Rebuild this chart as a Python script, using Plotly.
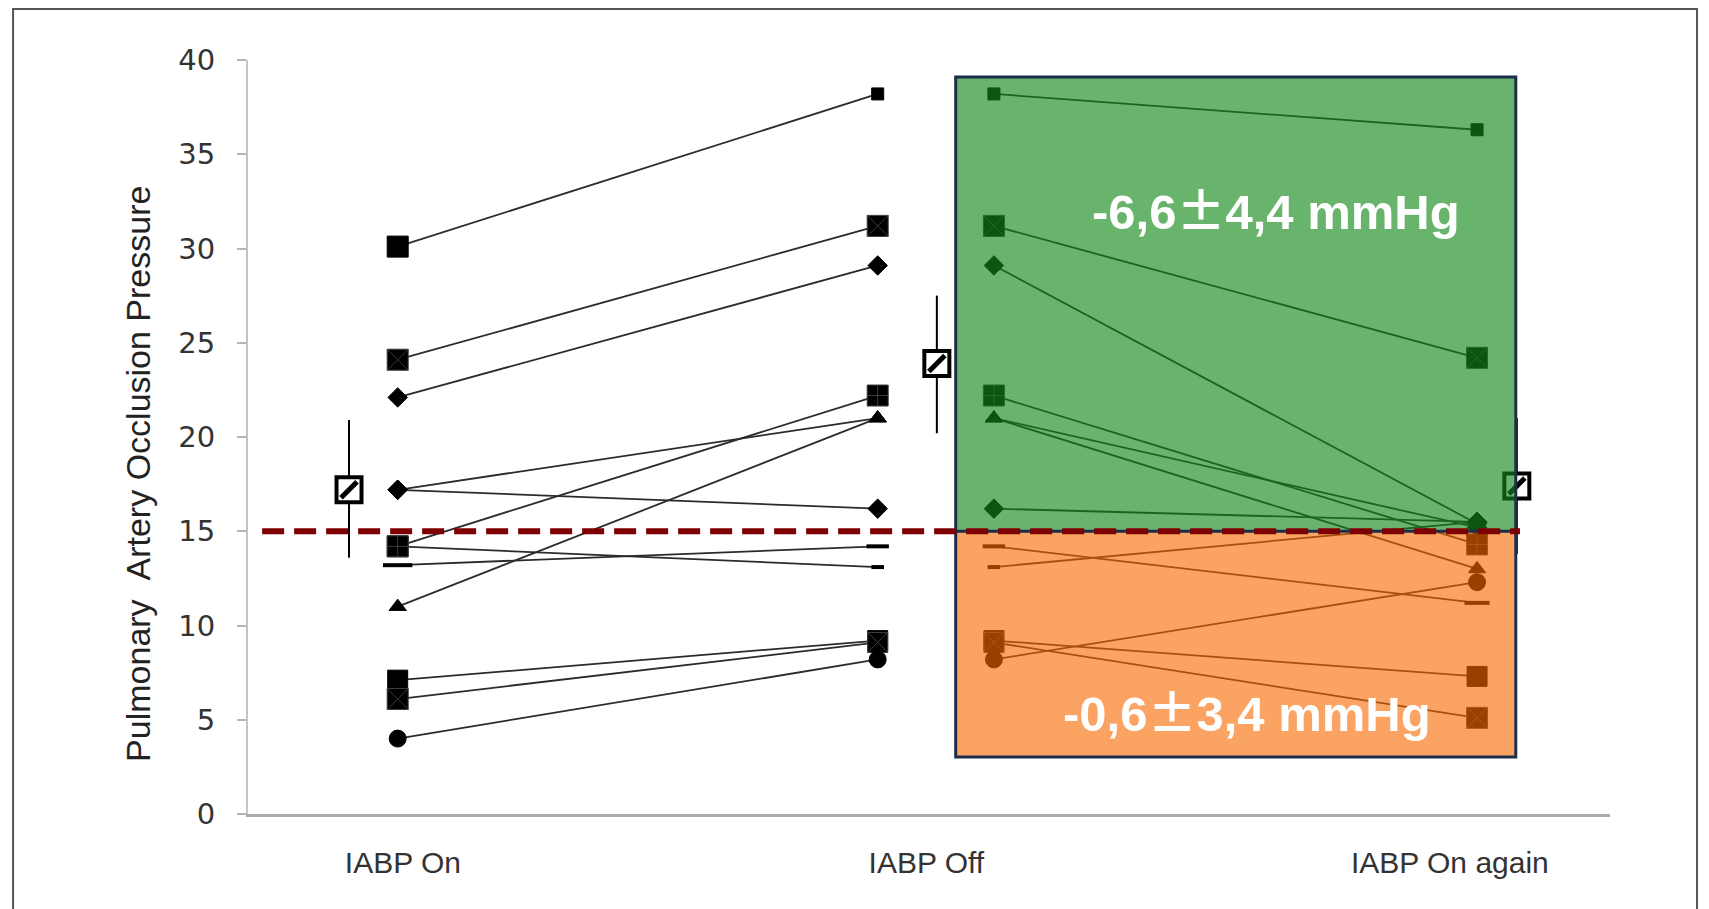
import plotly.graph_objects as go

# ---------------- data ----------------
categories = ["IABP On", "IABP Off", "IABP On again"]
y_ticks = [0, 5, 10, 15, 20, 25, 30, 35, 40]

on_vals = [30.1, 24.1, 22.1, 17.2, 14.2, 13.2, 11.0, 7.1, 6.1, 4.0, 17.2, 14.2]
off_vals = [38.2, 31.2, 29.1, 16.2, 22.2, 14.2, 21.0, 9.2, 9.1, 8.2, 21.0, 13.1]
again_vals = [36.3, 24.2, 15.4, 15.5, 14.3, 11.2, 13.0, 7.3, 5.1, 12.3, 15.2, 15.5]

mean_vals = [17.2, 23.9, 17.4]
sd_plus = [3.7, 3.6, 3.6]
sd_minus = [3.6, 3.7, 3.6]

threshold = 15
label_high = ("-6,6", "4,4 mmHg")
label_low = ("-0,6", "3,4 mmHg")

# ---------------- styles / positions ----------------
on_sym = ["square", "square-x", "diamond", "diamond", "square-cross", "line-ew",
          "triangle-up", "square", "square-x", "circle", "diamond", "square-cross"]
on_size = [21, 21, 15, 15, 21, 21, 15, 20, 21, 17, 15, 21]
off_sym = ["square", "square-x", "diamond", "diamond", "square-cross", "line-ew",
           "triangle-up", "square", "square-x", "circle", "triangle-up", "line-ew"]
off_size = [12, 21, 15, 15, 21, 16, 15, 20, 20, 17, 15, 9]
again_sym = ["square", "square-x", "diamond", "diamond", "square-cross", "line-ew",
             "triangle-up", "square", "square-x", "circle", "diamond", "diamond"]
again_size = [12, 21, 15, 15, 21, 18, 15, 20, 21, 17, 15, 15]

X_ON, X_OFF = -0.01, 0.907          # main panel columns
X_IN_L, X_IN_R = 1.129, 2.052       # pasted panel columns
X_MEANS = [-0.103, 1.020, 2.128]
BOX_X0, BOX_X1 = 1.056, 2.126
BOX_Y0, BOX_Y1 = 3.02, 39.1


def mline(s):
    return 4 if s == "line-ew" else 1


def mcol(s):
    return "#3c3c3c" if s in ("square-x", "square-cross") else "#000000"


fig = go.Figure()

for i in range(len(on_vals)):
    syms = [on_sym[i], off_sym[i]]
    fig.add_trace(go.Scatter(
        x=[X_ON, X_OFF], y=[on_vals[i], off_vals[i]], mode="lines+markers",
        line=dict(color="#2b2b2b", width=1.8),
        marker=dict(symbol=syms, size=[on_size[i], off_size[i]], color="#000000", opacity=1,
                    line=dict(width=[mline(s) for s in syms], color=[mcol(s) for s in syms])),
        showlegend=False, hoverinfo="skip"))

for i in range(len(off_vals)):
    syms = [off_sym[i], again_sym[i]]
    fig.add_trace(go.Scatter(
        x=[X_IN_L, X_IN_R], y=[off_vals[i], again_vals[i]], mode="lines+markers",
        line=dict(color="#2b2b2b", width=1.8),
        marker=dict(symbol=syms, size=[off_size[i], again_size[i]], color="#000000", opacity=1,
                    line=dict(width=[mline(s) for s in syms], color=[mcol(s) for s in syms])),
        showlegend=False, hoverinfo="skip"))

# mean +- SD markers (hatched squares)
fig.add_trace(go.Scatter(
    x=X_MEANS, y=mean_vals, mode="markers",
    marker=dict(symbol="square", size=25, color="white", opacity=1,
                line=dict(color="black", width=4)),
    error_y=dict(type="data", array=sd_plus, arrayminus=sd_minus, color="black", thickness=2, width=0),
    showlegend=False, hoverinfo="skip"))
fig.add_trace(go.Scatter(
    x=X_MEANS, y=mean_vals, mode="markers",
    marker=dict(symbol="line-ne", size=16, color="black", opacity=1, line=dict(color="black", width=5)),
    showlegend=False, hoverinfo="skip"))

shapes = [
    dict(type="rect", xref="x", yref="y", x0=BOX_X0, x1=BOX_X1, y0=threshold, y1=BOX_Y1,
         fillcolor="rgba(16,136,22,0.63)", line=dict(width=0), layer="above"),
    dict(type="rect", xref="x", yref="y", x0=BOX_X0, x1=BOX_X1, y0=BOX_Y0, y1=threshold,
         fillcolor="rgba(249,105,0,0.61)", line=dict(width=0), layer="above"),
    dict(type="line", xref="x", yref="y", x0=BOX_X0, x1=BOX_X1, y0=threshold, y1=threshold,
         line=dict(color="#1c2e4a", width=3), layer="above"),
    dict(type="rect", xref="x", yref="y", x0=BOX_X0, x1=BOX_X1, y0=BOX_Y0, y1=BOX_Y1,
         line=dict(color="#1c2e4a", width=3), fillcolor="rgba(0,0,0,0)", layer="above"),
    dict(type="line", xref="x", yref="y", x0=-0.269, x1=2.134, y0=threshold, y1=threshold,
         line=dict(color="#7f0000", width=6, dash="22px,10px"), layer="above"),
    dict(type="rect", xref="paper", yref="paper", x0=-0.1725, x1=1.0639, y0=-0.2, y1=1.0676,
         line=dict(color="#555555", width=2), fillcolor="rgba(0,0,0,0)", layer="above"),
]


def pm_text(parts):
    return ("<b>" + parts[0] +
            "<span style='font-family:Noto Sans CJK JP'>\u00b1</span>" +
            parts[1] + "</b>")


annotations = [
    dict(x=1.668, y=32.2, xref="x", yref="y", text=pm_text(label_high), showarrow=False,
         font=dict(family="Liberation Sans, Arial", size=49, color="white"),
         xanchor="center", yanchor="middle"),
    dict(x=1.612, y=5.57, xref="x", yref="y", text=pm_text(label_low), showarrow=False,
         font=dict(family="Liberation Sans, Arial", size=49, color="white"),
         xanchor="center", yanchor="middle"),
    dict(x=-0.0808, y=0.451, xref="paper", yref="paper",
         text="Pulmonary\u00a0\u00a0Artery Occlusion Pressure", textangle=-90, showarrow=False,
         font=dict(family="Liberation Sans", size=34, color="#222222"),
         xanchor="center", yanchor="middle"),
]

fig.update_layout(
    width=1701, height=901,
    margin=dict(l=240, r=99, t=52, b=95),
    paper_bgcolor="white", plot_bgcolor="white",
    shapes=shapes, annotations=annotations,
    xaxis=dict(range=[-0.296, 2.306], tickvals=[0, 1, 2], ticktext=categories,
               showgrid=False, zeroline=False, showline=True, linecolor="#ababab", linewidth=3,
               ticks="", ticklabelstandoff=20,
               tickfont=dict(family="Liberation Sans", size=30, color="#333333")),
    yaxis=dict(range=[0, 40], tickvals=y_ticks, showgrid=False, zeroline=False,
               showline=True, linecolor="#c4c4c4", linewidth=2,
               ticks="outside", ticklen=9, tickcolor="#b5b5b5", tickwidth=2, ticklabelstandoff=16,
               tickfont=dict(family="DejaVu Sans", size=29, color="#333333")),
)

fig.write_html("out.html")
